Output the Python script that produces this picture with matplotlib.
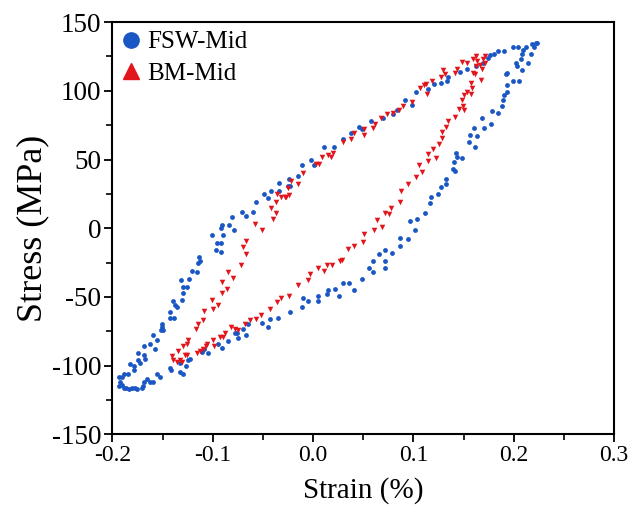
import matplotlib
matplotlib.use("Agg")
import matplotlib.pyplot as plt
from matplotlib.ticker import MultipleLocator, FormatStrFormatter
from matplotlib.lines import Line2D

# FSW-Mid (blue circles): strain (%), stress (MPa)
fsw_strain = [
    -0.011, -0.002, 0.001, 0.011, 0.021, 0.030, 0.038, 0.046, 0.049, 0.058, 0.070, 0.080, 0.084,
    0.092, 0.099, 0.103, 0.115, 0.121, 0.128, 0.134, 0.135, 0.146, 0.153, 0.162, 0.169, 0.174,
    0.176, 0.180, 0.184, 0.190, 0.199, 0.204, 0.208, 0.209, 0.212, 0.217, 0.218, 0.220, 0.222, 0.223,
    0.214, 0.207, 0.202, 0.203, 0.208, 0.193, 0.192, 0.205, 0.199, 0.193, 0.193, 0.190, 0.189, 0.188,
    0.184, 0.178, 0.177, 0.168, 0.170, 0.160, 0.163, 0.161, 0.156, 0.155, 0.148, 0.143, 0.142, 0.140,
    0.141, 0.139, 0.133, 0.133, 0.128, 0.125, 0.118,
    0.117, 0.112, 0.104, 0.097, 0.102, 0.095, 0.087, 0.087, 0.079, 0.072, 0.072, 0.072, 0.066, 0.060,
    0.060, 0.056, 0.049, 0.041, 0.036, 0.030, 0.026, 0.022, 0.015, 0.014, 0.005, 0.005, -0.005, -0.010, -0.011,
    -0.111, -0.109, -0.105, -0.095, -0.091, -0.085, -0.078, -0.076, -0.075, -0.070, -0.067, -0.065,
    -0.051, -0.045, -0.043, -0.035, -0.023,
    -0.057, -0.081, -0.091, -0.092, -0.084, -0.079, -0.071, -0.067, -0.060, -0.101, -0.090, -0.096,
    -0.092, -0.097, -0.092, -0.114, -0.115, -0.113, -0.121, -0.116, -0.124, -0.132, -0.130, -0.130,
    -0.126, -0.131, -0.140, -0.138, -0.136, -0.143, -0.139, -0.143, -0.151, -0.151, -0.152, -0.150,
    -0.160, -0.156, -0.163, -0.158, -0.169, -0.175, -0.169, -0.168, -0.175, -0.173, -0.179, -0.183,
    -0.179, -0.185, -0.189, -0.191, -0.194, -0.193, -0.194, -0.191, -0.189, -0.187, -0.184, -0.181,
    -0.178, -0.176, -0.171, -0.170, -0.169, -0.166, -0.163, -0.160, -0.156, -0.153, -0.143, -0.142,
    -0.133, -0.130, -0.133, -0.127, -0.125, -0.123,
    -0.015, -0.024, -0.023, -0.025, -0.034, -0.034, -0.042, -0.049, -0.045,
]
fsw_stress = [
    46, 50, 46, 59, 59, 65, 69, 74, 72, 78, 80, 83, 86,
    93, 90, 99, 101, 105, 106, 107, 110, 114, 116, 118, 120, 124,
    126, 127, 129, 129, 132, 132, 127, 130, 132, 127, 134, 132, 135, 135,
    120, 123, 120, 118, 115, 113, 112, 107, 107, 104, 99, 97, 93, 89,
    84, 85, 76, 80, 73, 73, 67, 59, 68, 63, 51, 52, 55, 48,
    42, 43, 36, 32, 30, 25, 23,
    18, 11, 7, 5, -1, -8, -7, -13, -18, -16, -24, -29, -19, -24,
    -32, -29, -37, -45, -40, -40, -49, -44, -45, -48, -49, -53, -53, -51, -57,
    -90, -88, -91, -84, -87, -82, -76, -76, -80, -73, -78, -70,
    -69, -72, -66, -65, -61,
    19, 8, 2, 0, 2, -1, 12, 9, 12, -5, -5, -11,
    -11, -16, -17, -21, -25, -24, -31, -32, -37, -38, -43, -47,
    -43, -52, -53, -56, -57, -61, -65, -65, -70, -72, -74, -74,
    -78, -81, -84, -88, -86, -91, -92, -95, -96, -98, -100, -99,
    -103, -106, -106, -108, -108, -112, -115, -114, -116, -116, -117, -116,
    -116, -117, -116, -115, -112, -110, -112, -112, -106, -108, -102, -103,
    -105, -106, -98, -100, -96, -95,
    38, 36, 31, 31, 33, 27, 27, 25, 22,
]

# BM-Mid (red triangles): strain (%), stress (MPa)
bm_strain = [
    -0.010, 0.003, 0.006, 0.009, 0.015, 0.018, 0.020, 0.030, 0.038, 0.041, 0.051, 0.051, 0.060,
    0.062, 0.068, 0.074, 0.080, 0.086, 0.090, 0.099, 0.107, 0.111, 0.113, 0.114, 0.119, 0.128,
    0.132, 0.130, 0.141, 0.143, 0.148, 0.153, 0.159, 0.162, 0.169, 0.171,
    0.163, 0.166, 0.168, 0.171, 0.162, 0.159, 0.167, 0.161, 0.157, 0.158, 0.157, 0.153, 0.150,
    0.148, 0.150, 0.149, 0.145, 0.141, 0.135, 0.133, 0.129, 0.129, 0.126, 0.120, 0.123, 0.115,
    0.115, 0.109, 0.106, 0.103, 0.095, 0.088,
    0.087, 0.078, 0.076, 0.072, 0.069, 0.064, 0.061, 0.051, 0.050, 0.041, 0.035, 0.029, 0.027,
    0.019, 0.014, 0.011, 0.005, -0.003, -0.005,
    -0.037, -0.042, -0.037, -0.040, -0.058, -0.051, -0.067, -0.070, -0.067, -0.072, -0.085, -0.080,
    -0.091, -0.086, -0.101, -0.091, -0.109, -0.100, -0.095, -0.110, -0.115, -0.117, -0.125, -0.126,
    -0.130, -0.135, -0.141, -0.140, -0.136, -0.133, -0.128, -0.126, -0.131,
    -0.116, -0.113, -0.110, -0.107, -0.106, -0.100, -0.099, -0.093, -0.090, -0.088, -0.082, -0.078,
    -0.075, -0.068, -0.063, -0.057, -0.052, -0.043, -0.036, -0.032, -0.024, -0.015,
    -0.015, -0.022, -0.025, -0.032, -0.028, -0.027, -0.024, -0.036,
]
bm_stress = [
    40, 47, 47, 52, 53, 52, 55, 63, 65, 69, 68, 72, 73,
    76, 80, 83, 84, 86, 89, 92, 102, 104, 105, 98, 107, 110,
    112, 115, 113, 116, 121, 120, 123, 125, 123, 125,
    122, 119, 116, 120, 118, 113, 108, 112, 106, 102, 98, 99, 97,
    93, 86, 89, 87, 81, 78, 74, 70, 66, 61, 58, 51, 54,
    49, 41, 46, 37, 32, 27,
    19, 15, 10, 11, 1, 6, -1, -4, -10, -13, -15, -23, -24,
    -27, -27, -31, -29, -33, -38,
    19, 15, 11, 7, 3, -1, -9, -14, -19, -27, -32, -36,
    -39, -44, -52, -47, -60, -59, -56, -67, -70, -73, -81, -84,
    -86, -89, -93, -96, -97, -96, -92, -92, -97,
    -91, -89, -88, -86, -84, -81, -86, -79, -79, -76, -72, -73,
    -74, -70, -67, -66, -63, -59, -54, -51, -49, -41,
    32, 34, 29, 23, 23, 23, 24, 25,
]

blue = "#1a56c4"
red = "#e3151c"

plt.rcParams["font.family"] = ["Liberation Serif", "DejaVu Serif"]
plt.rcParams["axes.unicode_minus"] = False

fig = plt.figure(figsize=(6.32, 5.14), dpi=100)
ax = fig.add_axes([0.178, 0.155, 0.7935, 0.802])

ax.scatter(fsw_strain, fsw_stress, s=12, marker="o", color=blue, linewidths=0, zorder=3)
ax.scatter(bm_strain, bm_stress, s=16, marker="v", color=red, linewidths=0, zorder=3)

ax.set_xlim(-0.2, 0.3)
ax.set_ylim(-150, 150)
ax.xaxis.set_major_locator(MultipleLocator(0.1))
ax.xaxis.set_minor_locator(MultipleLocator(0.05))
ax.yaxis.set_major_locator(MultipleLocator(50))
ax.yaxis.set_minor_locator(MultipleLocator(25))
ax.xaxis.set_major_formatter(FormatStrFormatter("%.1f"))

ax.tick_params(which="major", direction="out", length=6, width=1.3,
               top=False, right=False, pad=2)
ax.tick_params(axis="x", which="major", labelsize=17)
ax.tick_params(axis="y", which="major", labelsize=19.5)
ax.tick_params(which="minor", direction="out", length=4, width=1.2, top=False, right=False)
for sp in ax.spines.values():
    sp.set_linewidth(1.5)

ax.set_xlabel("Strain (%)", fontsize=21, labelpad=8)
ax.set_ylabel("Stress (MPa)", fontsize=26, labelpad=2)

handles = [
    Line2D([], [], linestyle="none", marker="o", markersize=11, color=blue, label="FSW-Mid"),
    Line2D([], [], linestyle="none", marker="^", markersize=11, color=red, label="BM-Mid"),
]
ax.legend(handles=handles, loc="upper left", frameon=False, fontsize=18,
          handletextpad=0.25, borderaxespad=0.15, borderpad=0.2, labelspacing=0.35,
          handlelength=0.8)

fig.savefig("out.png", dpi=100)
